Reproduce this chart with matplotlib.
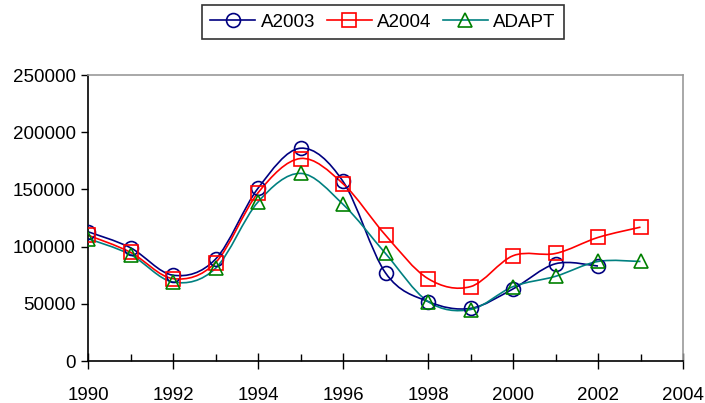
import matplotlib.pyplot as plt
import numpy as np
from matplotlib.path import Path
from matplotlib.patches import PathPatch
from matplotlib.lines import Line2D

plt.rcParams["font.family"] = ["Liberation Sans", "DejaVu Sans"]

# Data
years_a2003 = [1990, 1991, 1992, 1993, 1994, 1995, 1996, 1997, 1998, 1999, 2000, 2001, 2002]
a2003 = [113000, 99000, 75000, 89000, 151000, 186000, 157000, 77000, 52000, 46000, 63000, 85000, 83000]

years_a2004 = [1990, 1991, 1992, 1993, 1994, 1995, 1996, 1997, 1998, 1999, 2000, 2001, 2002, 2003]
a2004 = [110000, 95000, 72000, 86000, 147000, 177000, 155000, 110000, 72000, 65000, 92000, 94000, 108000, 117000]

years_adapt = [1990, 1991, 1992, 1993, 1994, 1995, 1996, 1997, 1998, 1999, 2000, 2001, 2002, 2003]
adapt = [107000, 93000, 69000, 81000, 139000, 164000, 137000, 94000, 52000, 45000, 65000, 74000, 87000, 87000]


def smooth_path(x, y):
    # Excel-style smoothed line: Catmull-Rom segments as cubic Bezier curves
    pts = np.column_stack([x, y]).astype(float)
    verts = [pts[0]]
    codes = [Path.MOVETO]
    n = len(pts)
    for i in range(n - 1):
        p0 = pts[max(i - 1, 0)]
        p1 = pts[i]
        p2 = pts[i + 1]
        p3 = pts[min(i + 2, n - 1)]
        c1 = p1 + (p2 - p0) / 6.0
        c2 = p2 - (p3 - p1) / 6.0
        verts += [c1, c2, p2]
        codes += [Path.CURVE4] * 3
    return Path(verts, codes)


fig = plt.figure(figsize=(7.05, 4.03), dpi=100)
ax = fig.add_axes([88 / 705, 1 - 361 / 403, (683 - 88) / 705, (361 - 75) / 403])

series = [
    (years_a2003, a2003, "A2003", "#000080", "#000080", "o"),
    (years_a2004, a2004, "A2004", "#FF0000", "#FF0000", "s"),
    (years_adapt, adapt, "ADAPT", "#008080", "#008000", "^"),
]

handles = []
for xs, ys, label, lc, mc, marker in series:
    ax.add_patch(PathPatch(smooth_path(xs, ys), facecolor="none", edgecolor=lc, lw=1.2, zorder=2))
    ax.plot(xs, ys, linestyle="none", marker=marker, markersize=10,
            markerfacecolor="none", markeredgecolor=mc, markeredgewidth=1.2, zorder=3)
    handles.append(Line2D([], [], color=lc, lw=1.2, marker=marker, markersize=10,
                          markerfacecolor="none", markeredgecolor=mc, markeredgewidth=1.2, label=label))

ax.set_xlim(1990, 2004)
ax.set_ylim(0, 250000)
ax.set_xticks(np.arange(1990, 2005, 2))
ax.set_xticks(np.arange(1991, 2004, 2), minor=True)
ax.set_yticks(np.arange(0, 250001, 50000))
ax.tick_params(labelsize=13.5, width=1, colors="black")
ax.tick_params(axis="x", which="major", direction="inout", length=11, pad=13)
ax.tick_params(axis="x", which="minor", direction="in", length=5, width=1)
ax.tick_params(axis="y", direction="out", length=5, pad=4)

ax.spines["left"].set_color("black")
ax.spines["bottom"].set_color("black")
ax.spines["top"].set_color("#999999")
ax.spines["right"].set_color("#999999")
for s in ax.spines.values():
    s.set_linewidth(1.2)

leg = fig.legend(handles=handles, loc="center", bbox_to_anchor=(383 / 705, 1 - 22 / 403),
                 ncol=3, fontsize=13.5, frameon=True, fancybox=False, handlelength=2.4,
                 handletextpad=0.3, columnspacing=0.6, borderpad=0.45)
leg.get_frame().set_edgecolor("black")
leg.get_frame().set_linewidth(1.2)

fig.savefig("out.png", dpi=100)
